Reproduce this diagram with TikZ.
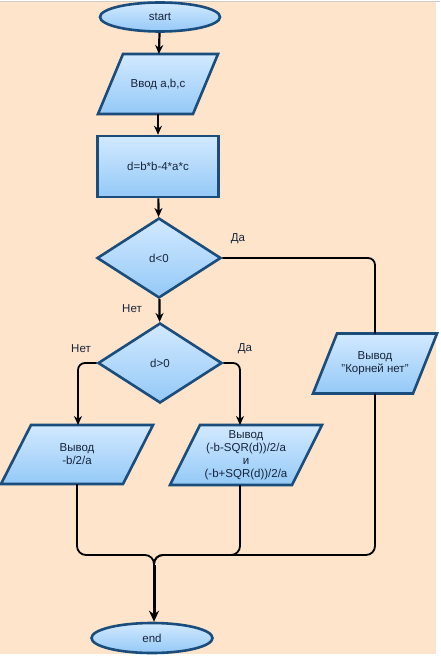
\documentclass[tikz,border=0pt]{standalone}
\usepackage{fontspec}
\setmainfont{Liberation Sans}
\usetikzlibrary{shapes.geometric,arrows.meta,calc}
\pgfdeclarelayer{back}
\pgfdeclarelayer{shapes}
\pgfsetlayers{back,shapes,main}
\definecolor{bgpeach}{HTML}{FDE4CA}
\definecolor{edgeblue}{HTML}{1A4C7C}
\definecolor{filltop}{HTML}{D2E9FF}
\definecolor{fillbot}{HTML}{94C9F7}
\definecolor{txt}{HTML}{17243A}
\tikzset{
  x=1pt,y=-1pt,
  skin/.style={draw=edgeblue,line width=2.6pt,top color=filltop,bottom color=fillbot},
  box/.style={skin,text=txt,font=\fontsize{11.5}{13}\selectfont,align=center,inner sep=0pt},
  term/.style={box,ellipse,minimum width=120,minimum height=29},
  iotext/.style={text=txt,font=\fontsize{11.5}{13}\selectfont,align=center,inner sep=0pt,
    outer sep=0pt,rectangle,minimum width=120,minimum height=60},
  proc/.style={box,rectangle,minimum width=121,minimum height=61},
  decision/.style={box,diamond,minimum width=124,minimum height=80},
  conn/.style={line width=1.8pt,black,rounded corners=7},
  arr/.style={conn,-{Stealth[length=9pt,width=8pt]}},
  lbl/.style={text=txt,font=\fontsize{11.5}{13}\selectfont,inner sep=0pt}
}
\newcommand\paraskin[2]{%
  \begin{pgfonlayer}{shapes}
  \filldraw[skin] ($(#1.north west)+(#2,0)$) -- (#1.north east)
     -- ($(#1.south east)-(#2,0)$) -- (#1.south west) -- cycle;
  \end{pgfonlayer}}
\begin{document}
\begin{tikzpicture}
\useasboundingbox (0,0) rectangle (440,663);
\begin{pgfonlayer}{back}
\fill[white] (0,0) rectangle (440,663);
\fill[bgpeach] (0,2.5) rectangle (436,654);
\draw[black!20,line width=0.8pt] (0,1.2) -- (440,1.2);
\end{pgfonlayer}

\node[term] (start) at (160,17) {start};
\node[iotext] (inp) at (158,84) {Ввод a,b,c};
\paraskin{inp}{25}
\node[proc] (calc) at (158,166.5) {d=b*b-4*a*c};
\node[decision] (d1) at (159,258) {d<0};
\node[decision] (d2) at (160,363) {d>0};
\node[iotext,minimum width=124] (none) at (375,363.5) {Вывод\\"Корней нет"};
\paraskin{none}{24}
\node[iotext,minimum width=152,minimum height=59] (one) at (77,454.5) {Вывод\\-b/2/a};
\paraskin{one}{30}
\node[iotext,minimum width=152] (two) at (246,455) {Вывод\\(-b-SQR(d))/2/a\\и\\(-b+SQR(d))/2/a};
\paraskin{two}{30}
\node[term,minimum width=121,minimum height=30] (end) at (152,638) {end};

\coordinate (m) at (154,555);
\coordinate (mt) at (154,572);

\draw[arr,line width=2.2pt] (start) -- (inp);
\draw[arr,line width=2.2pt] (inp.south -| calc.north) -- (calc);
\draw[arr,line width=2.2pt] (calc) -- (d1);
\draw[arr,line width=2.2pt] (d1) -- (d2);
\draw[conn] (d1.east) -| (none.north);
\draw[arr] (d2.west) -| (one.north -| 78,0);
\draw[arr] (d2.east) -| (two.north -| 240,0);

\draw[conn,rounded corners=9] (one.south) -- (77,555) -- (m) -- (mt);
\draw[conn,rounded corners=9] (two.south -| 240,0) -- (240,555) -- (m) -- (mt);
\draw[conn,rounded corners=9] (none.south) -- (375,555) -- (m) -- (mt);
\draw[line width=3pt,-{Stealth[length=11pt,width=10pt]}] (154,565) -- (end.north -| 154,0);

\node[lbl] (lda1) at (238,239) {Да};
\node[lbl] (lnet1) at (132,309) {Нет};
\node[lbl] (lnet2) at (81,349) {Нет};
\node[lbl] (lda2) at (245,349) {Да};
\end{tikzpicture}
\end{document}
